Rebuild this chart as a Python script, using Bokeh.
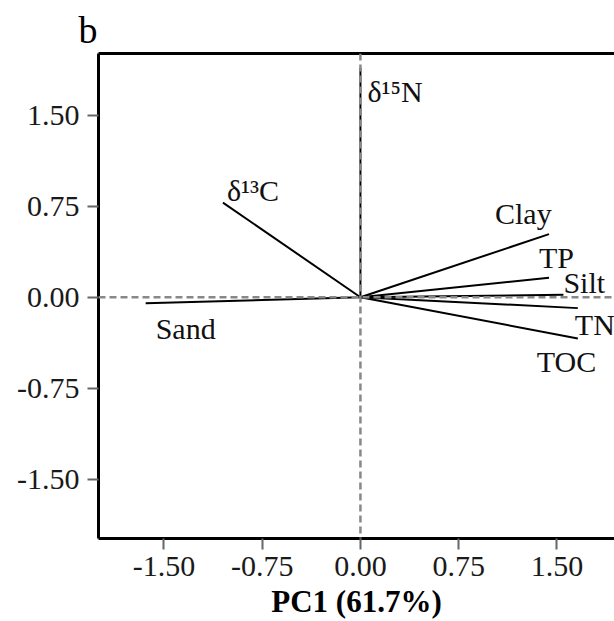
from bokeh.plotting import figure
from bokeh.models import (Range1d, FixedTicker, PrintfTickFormatter, LinearAxis,
                          Span, Title, ColumnDataSource)
from bokeh.core.properties import value
from bokeh.embed import file_html
from bokeh.resources import INLINE

# ---- data ----
variables = ["Sand", "δ¹³C", "δ¹⁵N", "Clay", "TP", "Silt", "TN", "TOC"]
pc1 = [-1.64, -1.05, 0.00, 1.44, 1.44, 1.55, 1.66, 1.66]
pc2 = [-0.05, 0.78, 1.89, 0.52, 0.16, 0.02, -0.09, -0.34]
tick_values = [-1.5, -0.75, 0.0, 0.75, 1.5]
x_axis_label = "PC1 (61.7%)"
panel_letter = "b"

# ---- label placement relative to vector tips (screen pixels, style only) ----
label_dx = [10, 4, 7, -54, -10, 0, -3, -41]
label_dy = [25, -12, 23, -21, -20, -12, 16, 23]

SERIF = "Liberation Serif"

src = ColumnDataSource(dict(
    var=variables, pc1=pc1, pc2=pc2, x0=[0.0] * len(pc1), y0=[0.0] * len(pc1),
    dx=label_dx, dy=label_dy))

p = figure(width=614, height=621, output_backend="svg", toolbar_location=None,
           x_range=Range1d(-2.0, 1.94), y_range=Range1d(-1.99, 2.01),
           min_border_left=98, min_border_right=0, min_border_top=53,
           min_border_bottom=83)
p.outline_line_color = None
p.background_fill_color = "white"
p.border_fill_color = "white"
p.xgrid.grid_line_color = None
p.ygrid.grid_line_color = None

for ax in (p.xaxis[0], p.yaxis[0]):
    ax.ticker = FixedTicker(ticks=tick_values)
    ax.formatter = PrintfTickFormatter(format="%.2f")
    ax.major_tick_out = 11
    ax.major_tick_in = 0
    ax.minor_tick_line_color = None
    ax.major_tick_line_color = "#666666"
    ax.major_tick_line_width = 2
    ax.axis_line_color = "black"
    ax.axis_line_width = 3
    ax.major_label_text_font = SERIF
    ax.major_label_text_font_size = "30px"
    ax.major_label_text_color = "#1a1a1a"

p.yaxis[0].major_label_standoff = 8
p.xaxis[0].major_label_standoff = 7
p.xaxis[0].axis_label = x_axis_label
p.xaxis[0].axis_label_text_font = SERIF
p.xaxis[0].axis_label_text_font_style = "bold"
p.xaxis[0].axis_label_text_font_size = "31px"
p.xaxis[0].axis_label_text_color = "black"
p.xaxis[0].axis_label_standoff = 5

top = LinearAxis(ticker=FixedTicker(ticks=[]), major_tick_line_color=None,
                 minor_tick_line_color=None, axis_line_color="black",
                 axis_line_width=3)
p.add_layout(top, "above")

# panel letter as title
p.title = Title(text=panel_letter, align="left", offset=-20, text_font=SERIF,
                text_font_size="38px", text_font_style="normal",
                text_color="black", standoff=6)

# vectors
p.segment(x0="x0", y0="y0", x1="pc1", y1="pc2", source=src,
          line_color="black", line_width=2)

# reference lines through origin
dash = dict(line_color="#888888", line_width=2.5, line_dash="7 4")
p.add_layout(Span(location=0, dimension="width", **dash))
p.add_layout(Span(location=0, dimension="height", **dash))

# variable labels
p.text(x="pc1", y="pc2", text="var", source=src, x_offset="dx", y_offset="dy",
       text_font=value(SERIF), text_font_size="30px", text_color="#111111",
       text_align="left", text_baseline="alphabetic")

open("out.html", "w").write(file_html(p, INLINE))
